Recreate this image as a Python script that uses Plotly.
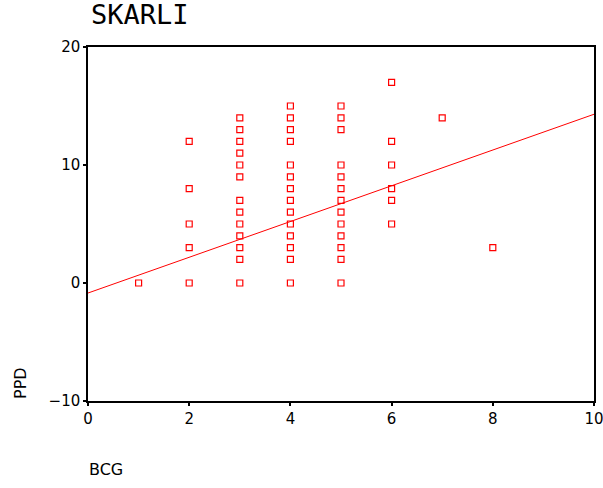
import plotly.graph_objects as go

bcg = [1,
       2, 2, 2, 2, 2,
       3, 3, 3, 3, 3, 3, 3, 3, 3, 3, 3, 3, 3,
       4, 4, 4, 4, 4, 4, 4, 4, 4, 4, 4, 4, 4, 4,
       5, 5, 5, 5, 5, 5, 5, 5, 5, 5, 5, 5, 5,
       6, 6, 6, 6, 6, 6,
       7, 8]
ppd = [0,
       0, 3, 5, 8, 12,
       0, 2, 3, 4, 5, 6, 7, 9, 10, 11, 12, 13, 14,
       0, 2, 3, 4, 5, 6, 7, 8, 9, 10, 12, 13, 14, 15,
       0, 2, 3, 4, 5, 6, 7, 8, 9, 10, 13, 14, 15,
       5, 7, 8, 10, 12, 17,
       14, 3]

# Fitted regression line
fit_intercept = -0.85
fit_slope = 1.515
fit_x = [0, 10]
fit_y = [fit_intercept + fit_slope * v for v in fit_x]

x_ticks = [0, 2, 4, 6, 8, 10]
y_ticks = [-10, 0, 10, 20]

fig = go.Figure()
fig.add_trace(go.Scatter(x=fit_x, y=fit_y, mode="lines",
                         line=dict(color="#ff0000", width=1), hoverinfo="skip"))
fig.add_trace(go.Scatter(x=bcg, y=ppd, mode="markers",
                         marker=dict(symbol="square-open", size=6, color="#ff0000",
                                     line=dict(width=1.2, color="#ff0000"))))

axis_common = dict(showgrid=False, zeroline=False, showline=True, linecolor="black",
                   linewidth=1.5, mirror=True, ticks="outside", ticklen=3, tickwidth=2,
                   tickcolor="black", ticklabeloverflow="allow",
                   tickfont=dict(family="DejaVu Sans", size=15, color="black"))

fig.update_layout(
    width=603, height=488,
    margin=dict(l=88, r=9, t=47, b=87, autoexpand=False),
    paper_bgcolor="white", plot_bgcolor="white",
    showlegend=False,
    xaxis=dict(range=[0, 10], tickvals=x_ticks, **axis_common),
    yaxis=dict(range=[-10, 20], tickvals=y_ticks, **axis_common),
    annotations=[
        dict(text="SKARLI", xref="paper", yref="paper", x=0.0, y=1.0, xshift=1,
             yshift=15, xanchor="left", yanchor="bottom", showarrow=False,
             font=dict(family="DejaVu Sans Mono", size=27, color="black")),
        dict(text="PPD", xref="paper", yref="paper", x=0, y=0, xshift=-68, yshift=0,
             xanchor="center", yanchor="bottom", textangle=-90, showarrow=False,
             font=dict(family="DejaVu Sans", size=16, color="black")),
        dict(text="BCG", xref="paper", yref="paper", x=0, y=0, xshift=-1, yshift=-57,
             xanchor="left", yanchor="top", showarrow=False,
             font=dict(family="DejaVu Sans", size=16, color="black")),
    ],
)

fig.write_html("out.html", config={"displayModeBar": False},
               post_script="document.body.style.margin='0';document.body.style.padding='0';")
